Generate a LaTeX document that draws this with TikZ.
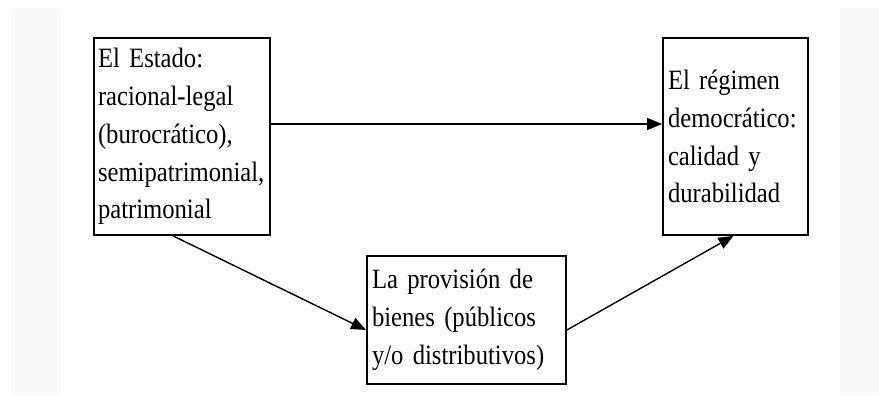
\documentclass[tikz,border=0pt]{standalone}
\usepackage{fontspec}
\setmainfont[FakeStretch=0.88]{Liberation Serif}
\usetikzlibrary{arrows.meta}
\begin{document}
\begin{tikzpicture}[x=1bp,y=-1bp,
  boxtext/.style={draw=black,line width=1.7bp,align=left,inner xsep=4bp,inner ysep=0bp,
    font=\fontsize{28bp}{37.8bp}\selectfont},
  arr/.style={line width=1.4bp,-{Triangle[length=15bp,width=12bp]}}]
\useasboundingbox (0,0) rectangle (879,395);
\fill[black!2] (11,9) rectangle (879,395);
\fill[white] (61,0) rectangle (840,395);
\node[boxtext,minimum width=176bp,minimum height=197bp,text width=168bp] (b1) at (182,136.5)
  {El Estado:\\racional-legal\\(burocrático),\\semipatrimonial,\\patrimonial};
\node[boxtext,minimum width=145bp,minimum height=197bp,text width=135bp,inner xsep=5bp] (b2) at (735.5,136.5)
  {El régimen\\democrático:\\calidad y\\durabilidad};
\node[boxtext,minimum width=199bp,minimum height=128bp,text width=189bp,inner xsep=5bp] (b3) at (466.5,320)
  {La provisión de\\bienes (públicos\\y/o distributivos)};
\draw[arr] (b1.east |- 0,124) -- (b2.west |- 0,124);
\draw[arr] ([xshift=-9bp]b1.south) -- ([yshift=-10bp]b3.west);
\draw[arr] ([yshift=-10bp]b3.east) -- ([xshift=-2bp]b2.south);
\end{tikzpicture}
\end{document}
